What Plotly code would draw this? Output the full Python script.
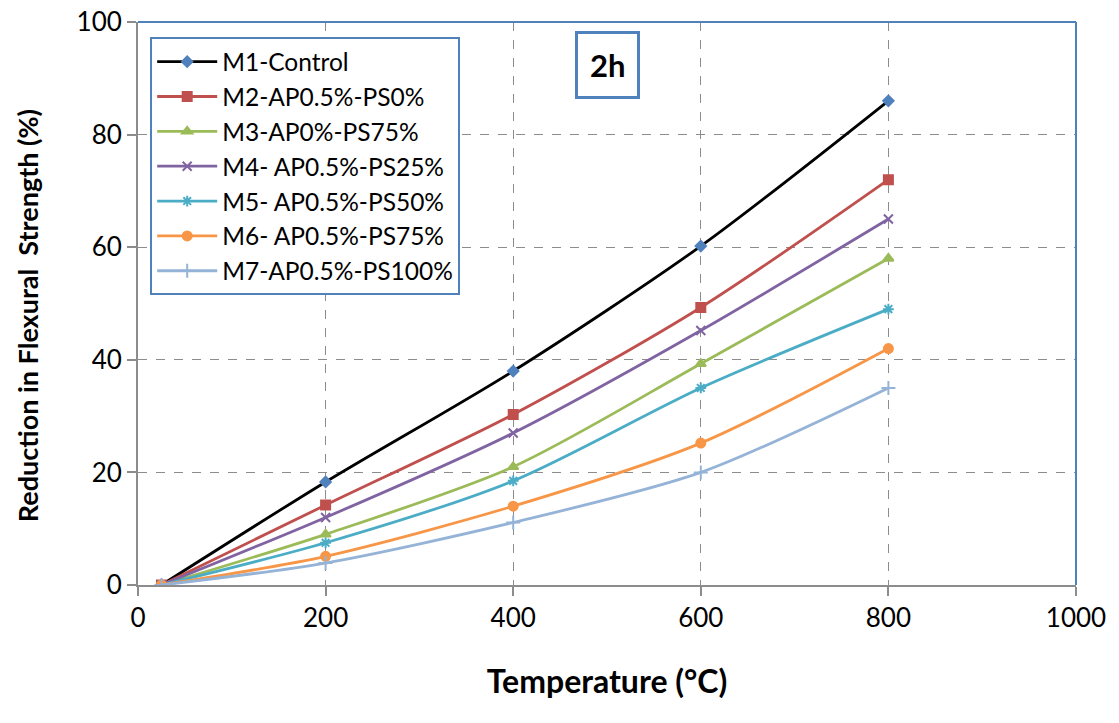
import plotly.graph_objects as go

temperature = [25, 200, 400, 600, 800]
names = ["M1-Control", "M2-AP0.5%-PS0%", "M3-AP0%-PS75%", "M4- AP0.5%-PS25%",
         "M5- AP0.5%-PS50%", "M6- AP0.5%-PS75%", "M7-AP0.5%-PS100%"]
m1 = [0, 18.3, 38, 60.2, 86]
m2 = [0, 14.2, 30.3, 49.3, 72]
m3 = [0, 9, 21, 39.3, 58]
m4 = [0, 12, 27, 45.2, 65]
m5 = [0, 7.5, 18.5, 35, 49]
m6 = [0, 5.1, 14, 25.2, 42]
m7 = [0, 3.9, 11.1, 20, 35]
series = [m1, m2, m3, m4, m5, m6, m7]

line_colors = ["#000000", "#C0504D", "#9BBB59", "#8064A2", "#4BACC6", "#F79646", "#95B3D7"]
marker_colors = ["#4F81BD", "#C0504D", "#9BBB59", "#8064A2", "#4BACC6", "#F79646", "#95B3D7"]
symbols = ["diamond", "square", "triangle-up", "x-thin-open", "asterisk-open", "circle", "cross-thin-open"]
msizes = [8, 9, 9, 9, 9, 9, 10]

FONT = "Lato, Open Sans, sans-serif"

fig = go.Figure()
for name, ys, lc, mc, sym, ms in zip(names, series, line_colors, marker_colors, symbols, msizes):
    fig.add_trace(go.Scatter(
        x=temperature, y=ys, name=name, mode="lines+markers",
        line=dict(color=lc, width=2.8, shape="spline", smoothing=0.8),
        marker=dict(symbol=sym, size=ms, color=mc, line=dict(color=mc, width=2)),
    ))

axis_common = dict(
    showline=True, linecolor="#8C8C8C", linewidth=2,
    ticks="outside", ticklen=9, tickwidth=2, tickcolor="#8C8C8C",
    showgrid=True, gridcolor="#8C8C8C", griddash="dash", gridwidth=1,
    zeroline=False, tickfont=dict(family=FONT, size=26, color="#000000"),
)

fig.update_layout(
    width=1119, height=723,
    margin=dict(l=138, r=43, t=22, b=138, autoexpand=False),
    paper_bgcolor="white", plot_bgcolor="white",
    font=dict(family=FONT, color="#000000"),
    xaxis=dict(range=[0, 1000], dtick=200, **axis_common,
               title=dict(text="<b>Temperature (°C)</b>", font=dict(family=FONT, size=32), standoff=38)),
    yaxis=dict(range=[0, 100], dtick=20, **axis_common),
    legend=dict(x=0.013, y=0.973, xanchor="left", yanchor="top",
                bgcolor="white", bordercolor="#4F81BD", borderwidth=2,
                font=dict(family=FONT, size=24.5), tracegroupgap=0, itemwidth=60),
    showlegend=True,
)

fig.add_shape(type="line", xref="paper", yref="paper", x0=0, x1=1, y0=1, y1=1,
              line=dict(color="#4F81BD", width=2))
fig.add_shape(type="line", xref="paper", yref="paper", x0=1, x1=1, y0=0, y1=1,
              line=dict(color="#4F81BD", width=2))

fig.add_annotation(xref="paper", yref="paper", x=-0.117, y=0.478,
                   text="<b>Reduction in Flexural  Strength (%)</b>", textangle=-90,
                   showarrow=False, font=dict(family=FONT, size=27, color="#000000"),
                   xanchor="center", yanchor="middle")

fig.add_annotation(xref="paper", yref="paper", x=0.5005, y=0.924, text="<b>2h</b>",
                   showarrow=False, font=dict(family=FONT, size=31, color="#000000"),
                   bordercolor="#4F81BD", borderwidth=3, borderpad=12, bgcolor="white",
                   xanchor="center", yanchor="middle")

fig.write_html("out.html")
